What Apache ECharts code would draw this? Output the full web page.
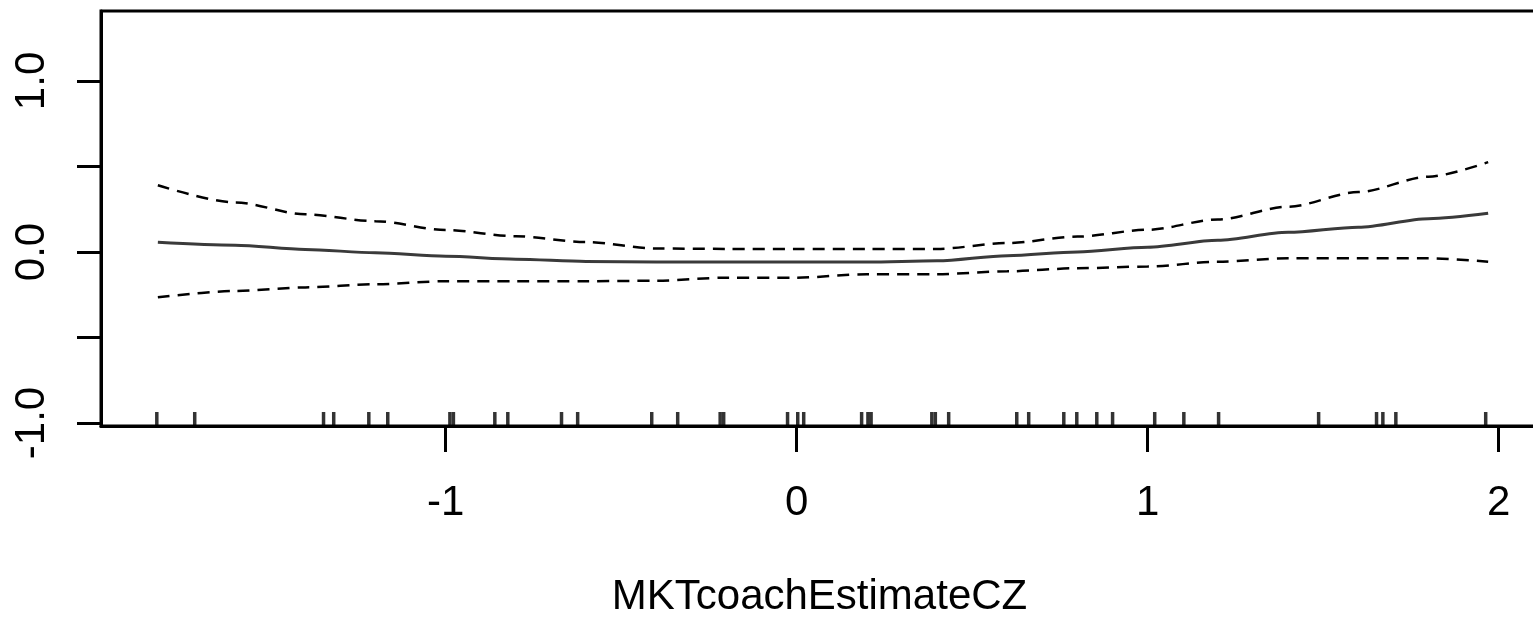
<!DOCTYPE html>
<html>
<head>
<meta charset="utf-8">
<title>MKTcoachEstimateCZ</title>
<script src="https://cdn.jsdelivr.net/npm/echarts@6/dist/echarts.min.js"></script>
<style>
  html, body { margin: 0; padding: 0; background: #fff; }
  #main { width: 1533px; height: 620px; }
</style>
</head>
<body>
<div id="main"></div>
<script>
// x positions where the smooth term is read
var xGrid = [-1.82, -1.6, -1.4, -1.2, -1.0, -0.8, -0.6, -0.4, -0.2, 0, 0.2, 0.4, 0.6, 0.8, 1.0, 1.2, 1.4, 1.6, 1.8, 1.97];
// fitted smooth
var fitVals = [0.057, 0.04, 0.015, -0.005, -0.025, -0.042, -0.055, -0.058, -0.058, -0.058, -0.058, -0.052, -0.022, 0.0, 0.028, 0.068, 0.115, 0.145, 0.195, 0.226];
// upper / lower 2 se bands
var upperVals = [0.39, 0.29, 0.22, 0.18, 0.128, 0.092, 0.058, 0.02, 0.018, 0.018, 0.018, 0.018, 0.052, 0.09, 0.13, 0.19, 0.265, 0.35, 0.44, 0.525];
var lowerVals = [-0.265, -0.228, -0.207, -0.189, -0.171, -0.171, -0.171, -0.168, -0.15, -0.15, -0.13, -0.13, -0.113, -0.095, -0.085, -0.057, -0.037, -0.037, -0.037, -0.057];
// rug (observed covariate values)
var rugVals = [-1.823, -1.715, -1.348, -1.319, -1.219, -1.165, -0.988, -0.978, -0.860, -0.823, -0.670, -0.624,
  -0.413, -0.339, -0.218, -0.208, -0.026, 0.003, 0.020, 0.185, 0.203, 0.212, 0.385, 0.395, 0.433,
  0.627, 0.661, 0.761, 0.798, 0.855, 0.900, 1.020, 1.103, 1.202, 1.487, 1.652, 1.670, 1.707, 1.963];
var xTicks = [-1, 0, 1, 2];
var yTicks = [-1, -0.5, 0, 0.5, 1];
var yLabels = [-1, 0, 1];

var xMin = -1.982, xMax = 2.112;
var yMin = -1.0175, yMax = 1.409;

function zip (xs, ys) {
    return xs.map(function (x, i) { return [x, ys[i]] })
}

var chart = echarts.init(document.getElementById('main'))
var fontFam = '"Liberation Sans", Arial, sans-serif'

chart.setOption({
    animation: false,
    grid: {
        left: 101,
        top: 11,
        right: -5, // box runs a little past the right edge, as in the original
        bottom: 194,
        outerBoundsMode: 'none',
        containLabel: false,
        show: true,
        borderColor: '#000',
        borderWidth: 3,
        backgroundColor: 'transparent'
    },
    xAxis: {
        type: 'value',
        min: xMin,
        max: xMax,
        name: 'MKTcoachEstimateCZ',
        nameLocation: 'middle',
        nameGap: 150,
        nameTextStyle: { color: '#000', fontSize: 42, fontFamily: fontFam },
        splitLine: { show: false },
        axisLine: { show: true, onZero: false, lineStyle: { color: '#000', width: 3 } },
        axisTick: { show: true, length: 26, customValues: xTicks, lineStyle: { color: '#000', width: 3 } },
        axisLabel: {
            customValues: xTicks,
            margin: 56,
            color: '#000',
            fontSize: 42,
            fontFamily: fontFam,
            formatter: function (v) { return String(v) }
        }
    },
    yAxis: {
        type: 'value',
        min: yMin,
        max: yMax,
        splitLine: { show: false },
        axisLine: { show: true, onZero: false, lineStyle: { color: '#000', width: 3 } },
        axisTick: { show: true, length: 24, customValues: yTicks, lineStyle: { color: '#000', width: 3 } },
        axisLabel: {
            customValues: yLabels,
            rotate: 90,
            margin: 48,
            color: '#000',
            fontSize: 42,
            fontFamily: fontFam,
            formatter: function (v) { return v.toFixed(1) }
        }
    },
    series: [
        {
            name: 'fit',
            type: 'line',
            data: zip(xGrid, fitVals),
            showSymbol: false,
            smooth: 0.3,
            smoothMonotone: 'x',
            lineStyle: { color: '#3a3a3a', width: 3 }
        },
        {
            name: 'upper',
            type: 'line',
            data: zip(xGrid, upperVals),
            showSymbol: false,
            smooth: 0.3,
            smoothMonotone: 'x',
            lineStyle: { color: '#000', width: 2.5, type: [12, 8] }
        },
        {
            name: 'lower',
            type: 'line',
            data: zip(xGrid, lowerVals),
            showSymbol: false,
            smooth: 0.3,
            smoothMonotone: 'x',
            lineStyle: { color: '#000', width: 2.5, type: [12, 8] }
        },
        {
            name: 'rug',
            type: 'scatter',
            clip: false,
            symbol: 'rect',
            symbolSize: [3.5, 14],
            symbolOffset: [0, -7],
            itemStyle: { color: '#000' },
            data: rugVals.map(function (v) { return [v, yMin] })
        }
    ]
})
</script>
</body>
</html>
